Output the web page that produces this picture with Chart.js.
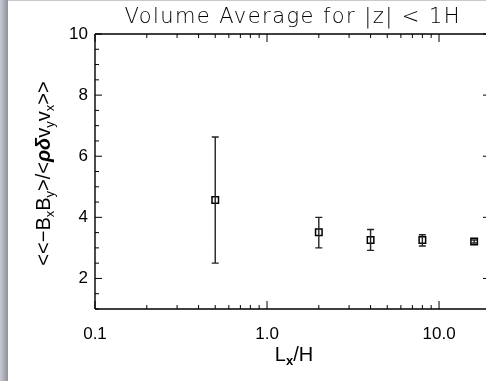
<!DOCTYPE html>
<html>
<head>
<meta charset="utf-8">
<script src="https://cdn.jsdelivr.net/npm/chart.js@4"></script>
<style>
  html, body { margin: 0; padding: 0; background: #fff; }
  #wrap { width: 486px; height: 381px; }
</style>
</head>
<body>
<div id="wrap"><canvas id="chart" width="486" height="381"></canvas></div>
<script>
// Lx/H values and the volume averaged ratio, with error bar ends
const lxValues = [0.5, 2, 4, 8, 16];
const ratioValues = [4.57, 3.51, 3.26, 3.26, 3.21];
const errLow = [2.50, 3.00, 2.92, 3.06, 3.16];
const errHigh = [6.63, 4.00, 3.60, 3.43, 3.26];
const xMajorLabels = [0.1, 1, 10];
const yMajorLabels = [2, 4, 6, 8, 10];
const titleText = 'Volume Average for |z| < 1H';

const FONT = '"Liberation Sans", Arial, sans-serif';

function isPow10(v) {
  const e = Math.log10(v);
  return Math.abs(e - Math.round(e)) < 1e-9;
}

// draws text made of segments, some of them subscripts
function richText(ctx, parts, size) {
  let w = 0;
  parts.forEach(p => {
    ctx.font = (p.style || '') + ' ' + (p.sub ? size * 0.65 : size) + 'px ' + FONT;
    p.w = ctx.measureText(p.t).width;
    w += p.w;
  });
  let x = -w / 2;
  parts.forEach(p => {
    ctx.font = (p.style || '') + ' ' + (p.sub ? size * 0.65 : size) + 'px ' + FONT;
    ctx.fillText(p.t, x, p.sub ? size * 0.3 : 0);
    x += p.w;
  });
}

const frame = {
  id: 'frame',
  beforeDraw(chart) {
    const ctx = chart.ctx;
    const g = ctx.createLinearGradient(0, 0, 8, 0);
    g.addColorStop(0, '#c9cad2');
    g.addColorStop(1, '#8e919f');
    ctx.save();
    ctx.fillStyle = g;
    ctx.fillRect(0, 0, 8, chart.height);
    ctx.fillStyle = '#c8c9cf';
    ctx.fillRect(8, 0, chart.width - 8, 1);
    ctx.restore();
  },
  afterDatasetsDraw(chart) {
    const ctx = chart.ctx;
    const x = chart.scales.x, y = chart.scales.y;
    const a = chart.chartArea;
    const right = a.right + 4;
    ctx.save();
    ctx.strokeStyle = '#000';
    ctx.lineWidth = 1.4;
    // axes box (right side sits just past the edge)
    ctx.beginPath();
    ctx.moveTo(a.left, a.top); ctx.lineTo(right, a.top);
    ctx.moveTo(a.left, a.bottom); ctx.lineTo(right, a.bottom);
    ctx.moveTo(a.left, a.top); ctx.lineTo(a.left, a.bottom);
    ctx.stroke();
    // ticks, pointing inward
    ctx.lineWidth = 1;
    ctx.beginPath();
    x.ticks.forEach(t => {
      const px = x.getPixelForValue(t.value);
      const len = isPow10(t.value) ? 8 : 4;
      ctx.moveTo(px, a.bottom); ctx.lineTo(px, a.bottom - len);
      ctx.moveTo(px, a.top); ctx.lineTo(px, a.top + len);
    });
    y.ticks.forEach(t => {
      const py = y.getPixelForValue(t.value);
      const len = yMajorLabels.includes(t.value) ? 7 : 4;
      ctx.moveTo(a.left, py); ctx.lineTo(a.left + len, py);
      ctx.moveTo(right, py); ctx.lineTo(right - len, py);
    });
    ctx.stroke();
    // error bars
    ctx.strokeStyle = '#222';
    ctx.lineWidth = 1.4;
    ctx.beginPath();
    lxValues.forEach((v, i) => {
      const px = x.getPixelForValue(v);
      const lo = y.getPixelForValue(errLow[i]);
      const hi = y.getPixelForValue(errHigh[i]);
      ctx.moveTo(px, lo); ctx.lineTo(px, hi);
      ctx.moveTo(px - 3.5, lo); ctx.lineTo(px + 3.5, lo);
      ctx.moveTo(px - 3.5, hi); ctx.lineTo(px + 3.5, hi);
    });
    ctx.stroke();
    ctx.restore();
  },
  afterDraw(chart) {
    const ctx = chart.ctx;
    const a = chart.chartArea;
    // title, thin and spaced out like the original
    ctx.save();
    ctx.fillStyle = '#000';
    ctx.textBaseline = 'alphabetic';
    ctx.textAlign = 'left';
    ctx.font = '200 21px "DejaVu Sans", sans-serif';
    const plain = ctx.measureText(titleText).width;
    const sp = (335 - plain) / (titleText.length - 1);
    ctx.letterSpacing = sp + 'px';
    ctx.fillText(titleText, 292 - 335 / 2, 23);
    ctx.restore();
    // x title
    ctx.save();
    ctx.fillStyle = '#000';
    ctx.textBaseline = 'middle';
    ctx.textAlign = 'left';
    ctx.translate(294, 355);
    richText(ctx, [{t: 'L'}, {t: 'x', sub: true, style: 'bold'}, {t: '/H'}], 20);
    ctx.restore();
    // y title
    ctx.save();
    ctx.fillStyle = '#000';
    ctx.textBaseline = 'middle';
    ctx.textAlign = 'left';
    ctx.translate(44, (a.top + a.bottom) / 2 + 2);
    ctx.rotate(-Math.PI / 2);
    richText(ctx, [
      {t: '<<\u2212B'}, {t: 'x', sub: true}, {t: 'B'}, {t: 'y', sub: true},
      {t: '>/<'}, {t: '\u03c1\u03b4', style: 'italic bold'},
      {t: 'v'}, {t: 'y', sub: true}, {t: 'v'}, {t: 'x', sub: true}, {t: '>>'}
    ], 20);
    ctx.restore();
  }
};

new Chart(document.getElementById('chart'), {
  type: 'scatter',
  data: {
    datasets: [{
      label: 'ratio',
      data: lxValues.map((v, i) => ({x: v, y: ratioValues[i]})),
      pointStyle: 'rect',
      pointRadius: 4.6,
      pointHoverRadius: 4.6,
      borderColor: '#000',
      backgroundColor: 'rgba(0,0,0,0)',
      borderWidth: 1.5,
      showLine: false
    }]
  },
  options: {
    responsive: false,
    animation: false,
    layout: { autoPadding: false, padding: { left: 0, right: 0, top: 34, bottom: 0 } },
    plugins: {
      legend: { display: false },
      tooltip: { enabled: false },
      title: { display: false }
    },
    scales: {
      x: {
        type: 'logarithmic',
        min: 0.1,
        max: 18.75,
        grid: { display: false, drawTicks: false },
        border: { display: false },
        afterBuildTicks(scale) {
          scale.ticks = scale.ticks.filter(t => {
            const m = t.value / Math.pow(10, Math.floor(Math.log10(t.value) + 1e-9));
            return Math.abs(m - Math.round(m)) < 1e-6 && t.value <= 10.0001;
          });
        },
        afterFit(scale) {
          scale.height = 72;
          scale.paddingLeft = 0;
          scale.paddingRight = 0;
        },
        ticks: {
          autoSkip: false,
          maxRotation: 0,
          padding: 15,
          color: '#000',
          font: { family: FONT, size: 17 },
          callback(v) {
            return xMajorLabels.some(m => Math.abs(m - v) < 1e-9) ? Number(v).toFixed(1) : '';
          }
        }
      },
      y: {
        min: 1,
        max: 10,
        grid: { display: false, drawTicks: false },
        border: { display: false },
        afterFit(scale) {
          scale.width = 95;
          scale.paddingTop = 0;
          scale.paddingBottom = 0;
        },
        ticks: {
          stepSize: 0.5,
          autoSkip: false,
          padding: 7,
          color: '#000',
          font: { family: FONT, size: 17 },
          callback(v) {
            return yMajorLabels.includes(v) ? String(v) : '';
          }
        }
      }
    }
  },
  plugins: [frame]
});
</script>
</body>
</html>
